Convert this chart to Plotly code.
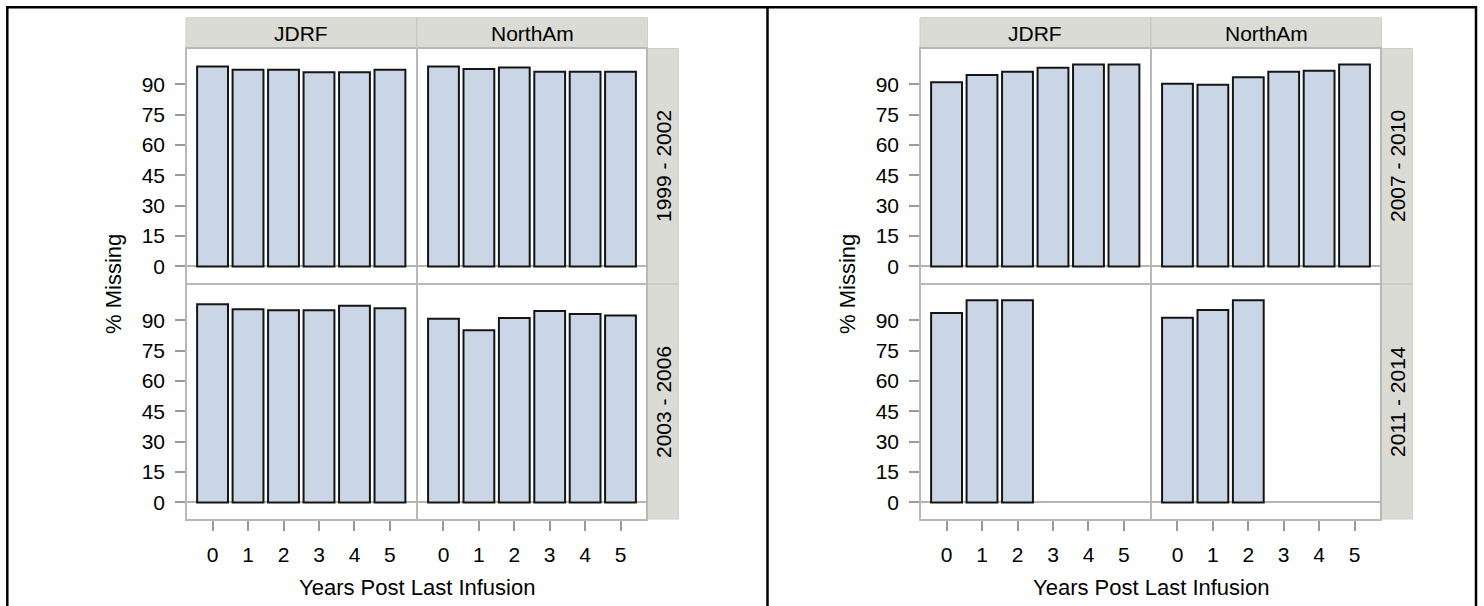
import plotly.graph_objects as go

# ---------------- data ----------------
years = [0, 1, 2, 3, 4, 5]
sites = ["JDRF", "NorthAm"]
periods_left = ["1999 - 2002", "2003 - 2006"]
periods_right = ["2007 - 2010", "2011 - 2014"]
y_ticks = [0, 15, 30, 45, 60, 75, 90]

jdrf_1999_2002 = [98.7, 97.2, 97.2, 95.9, 95.9, 97.2]
northam_1999_2002 = [98.7, 97.5, 98.2, 96.2, 96.2, 96.2]
jdrf_2003_2006 = [97.9, 95.4, 94.9, 94.9, 97.1, 95.9]
northam_2003_2006 = [90.7, 85.0, 91.1, 94.5, 93.1, 92.3]
jdrf_2007_2010 = [91.0, 94.6, 96.2, 98.1, 99.7, 99.7]
northam_2007_2010 = [90.2, 89.7, 93.5, 96.2, 96.7, 99.7]
jdrf_2011_2014 = [93.6, 99.9, 99.9]
northam_2011_2014 = [91.2, 95.1, 99.9]

x_title = "Years Post Last Infusion"
y_title = "% Missing"

# ---------------- layout helpers ----------------
W, H = 1484, 606
FONT = "Liberation Sans, Arial, sans-serif"
BAR_FILL = "#CAD5E5"
STRIP = "#D9DBD4"
PANEL_LINE = "#B8B8B8"
TICK_COL = "#9A9A9A"


def px(x):
    return x / W


def py(y):
    return 1 - y / H


graphs = [
    (0, periods_left, [[jdrf_1999_2002, northam_1999_2002], [jdrf_2003_2006, northam_2003_2006]]),
    (734, periods_right, [[jdrf_2007_2010, northam_2007_2010], [jdrf_2011_2014, northam_2011_2014]]),
]
col_px = [(187, 415.5), (418, 646)]
row_px = [(49, 283), (285, 519)]

fig = go.Figure()
layout = dict(
    width=W, height=H, margin=dict(l=0, r=0, t=0, b=0),
    paper_bgcolor="white", plot_bgcolor="white", showlegend=False,
    font=dict(family=FONT, color="#000000", size=21),
)
shapes = []
annotations = []

idx = 0
for dx, periods, data in graphs:
    for r in range(2):
        for c in range(2):
            idx += 1
            xa = "xaxis" if idx == 1 else f"xaxis{idx}"
            ya = "yaxis" if idx == 1 else f"yaxis{idx}"
            xr = "x" if idx == 1 else f"x{idx}"
            yr = "y" if idx == 1 else f"y{idx}"
            vals = data[r][c]
            fig.add_trace(go.Bar(
                x=years[:len(vals)], y=vals, width=0.87,
                marker=dict(color=BAR_FILL, line=dict(color="#151515", width=2)),
                xaxis=xr, yaxis=yr, hoverinfo="x+y",
            ))
            x0, x1 = col_px[c]
            y0, y1 = row_px[r]
            layout[xa] = dict(
                domain=[px(x0 + dx), px(x1 + dx)], anchor=yr,
                range=[-0.72, 5.72], tickvals=years, ticktext=[str(v) for v in years],
                showticklabels=(r == 1), ticks="outside" if r == 1 else "",
                ticklen=10, tickwidth=1.5, tickcolor=TICK_COL,
                tickfont=dict(size=21, color="#000"), ticklabelstandoff=6,
                showline=True, mirror=True, linecolor=PANEL_LINE, linewidth=1.5,
                showgrid=False, zeroline=False, fixedrange=True,
            )
            layout[ya] = dict(
                domain=[py(y1), py(y0)], anchor=xr,
                range=[-8.2, 107.4], tickvals=y_ticks,
                showticklabels=(c == 0), ticks="outside" if c == 0 else "",
                ticklen=10, tickwidth=1.5, tickcolor=TICK_COL,
                tickfont=dict(size=21, color="#000"), ticklabelstandoff=6,
                showline=True, mirror=True, linecolor=PANEL_LINE, linewidth=1.5,
                showgrid=False, zeroline=True, zerolinecolor="#B4B4B4", zerolinewidth=2,
                fixedrange=True,
            )

    # column strip (top)
    shapes.append(dict(type="rect", xref="paper", yref="paper",
                       x0=px(186 + dx), x1=px(647.5 + dx), y0=py(48.5), y1=py(17.7),
                       fillcolor=STRIP, line=dict(color="#CDCFC9", width=1), layer="below"))
    shapes.append(dict(type="line", xref="paper", yref="paper",
                       x0=px(416.8 + dx), x1=px(416.8 + dx), y0=py(48.5), y1=py(17.7),
                       line=dict(color="#C6C8C2", width=1.5)))
    # row strip (right)
    shapes.append(dict(type="rect", xref="paper", yref="paper",
                       x0=px(647.5 + dx), x1=px(678.3 + dx), y0=py(519), y1=py(48.5),
                       fillcolor=STRIP, line=dict(color="#CDCFC9", width=1), layer="below"))
    shapes.append(dict(type="line", xref="paper", yref="paper",
                       x0=px(647.5 + dx), x1=px(678.3 + dx), y0=py(284), y1=py(284),
                       line=dict(color="#C6C8C2", width=1.5)))

    for c, name in enumerate(sites):
        x0, x1 = col_px[c]
        annotations.append(dict(text=name, xref="paper", yref="paper",
                                x=px((x0 + x1) / 2 + dx), y=py(33), xanchor="center", yanchor="middle",
                                showarrow=False, font=dict(size=21, color="#000")))
    for r, name in enumerate(periods):
        y0, y1 = row_px[r]
        annotations.append(dict(text=name, xref="paper", yref="paper", textangle=-90,
                                x=px(663 + dx), y=py((y0 + y1) / 2), xanchor="center", yanchor="middle",
                                showarrow=False, font=dict(size=21, color="#000")))
    annotations.append(dict(text=x_title, xref="paper", yref="paper",
                            x=px(416.8 + dx), y=py(587), xanchor="center", yanchor="middle",
                            showarrow=False, font=dict(size=22, color="#000")))
    annotations.append(dict(text=y_title, xref="paper", yref="paper", textangle=-90,
                            x=px(113 + dx), y=py(284), xanchor="center", yanchor="middle",
                            showarrow=False, font=dict(size=22, color="#000")))

# outer frames
frame = dict(color="#000000", width=2.5)
shapes.append(dict(type="line", xref="paper", yref="paper", x0=px(6), x1=px(1477), y0=py(7.3), y1=py(7.3), line=frame))
shapes.append(dict(type="line", xref="paper", yref="paper", x0=px(7.3), x1=px(7.3), y0=py(6), y1=0, line=frame))
shapes.append(dict(type="line", xref="paper", yref="paper", x0=px(767.5), x1=px(767.5), y0=py(6), y1=0, line=frame))
shapes.append(dict(type="line", xref="paper", yref="paper", x0=px(1476), x1=px(1476), y0=py(6), y1=0, line=frame))

layout["shapes"] = shapes
layout["annotations"] = annotations
fig.update_layout(**layout)
# remove the default 8px page margin so the figure sits at the window origin
fig.write_html("out.html", config={"displayModeBar": False},
               post_script="document.body.style.margin='0';document.body.style.overflow='hidden';")
